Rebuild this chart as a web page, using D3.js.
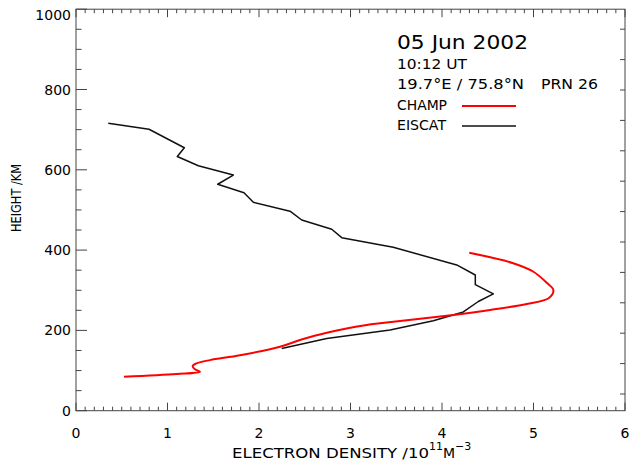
<!DOCTYPE html>
<html><head><meta charset="utf-8">
<script src="https://cdn.jsdelivr.net/npm/d3@7"></script>
<style>body{margin:0;background:#fff}svg{display:block}text{font-family:"DejaVu Sans",sans-serif;fill:#000;white-space:pre}</style>
</head><body>
<svg id="c" width="631" height="464"></svg>
<script>
const xTicks=[0,1,2,3,4,5,6];
const yTicks=[0,200,400,600,800,1000];
const champ=[[4.298,393.5],[4.770,368],[4.995,346.7],[5.148,318],[5.217,300.6],[5.169,280.7],[4.926,265.8],[4.525,250.8],[4.124,238.4],[3.322,217.7],[3.177,213.4],[2.740,194.3],[2.448,176],[2.230,159.4],[1.792,138],[1.464,126],[1.319,118],[1.275,111.3],[1.300,103],[1.355,97.1],[1.101,91.4],[0.525,84.7]];
const eiscat=[[0.353,716],[0.798,701],[1.184,655],[1.107,633],[1.337,610],[1.719,587],[1.549,564],[1.836,543],[1.938,519],[2.339,497],[2.467,475],[2.795,452],[2.904,431],[3.467,407],[4.161,363],[4.364,338],[4.364,314],[4.561,291],[4.397,272],[4.233,246],[3.905,224],[3.432,201],[2.740,180],[2.248,155]];
const legendLines=["05 Jun 2002","10:12 UT","19.7°E / 75.8°N","PRN 26"];
const series=[{name:"CHAMP",color:"#ff0000"},{name:"EISCAT",color:"#111"}];

const L=76,R=625,T=9.2,B=410.7;
const svg=d3.select("#c");
const x=d3.scaleLinear().domain([0,6]).range([L,R]);
const y=d3.scaleLinear().domain([0,1000]).range([B,T]);
const ax="#444";
const g=svg.append("g");
g.append("rect").attr("x",L).attr("y",T).attr("width",R-L).attr("height",B-T).attr("fill","none").attr("stroke",ax).attr("stroke-width",1);
const xMinor=d3.range(0,60.5,1).map(d=>d/10);
xMinor.forEach(v=>{const maj=Math.abs(v-Math.round(v))<1e-6;const len=maj?8:4;
  g.append("line").attr("x1",x(v)).attr("x2",x(v)).attr("y1",B).attr("y2",B-len).attr("stroke",ax);
  g.append("line").attr("x1",x(v)).attr("x2",x(v)).attr("y1",T).attr("y2",T+len).attr("stroke",ax);});
const yMinor=d3.range(0,1001,50);
yMinor.forEach(v=>{const maj=v%200===0;const len=maj?11:5.5;
  g.append("line").attr("x1",L).attr("x2",L+len).attr("y1",y(v)).attr("y2",y(v)).attr("stroke",ax);});
d3.range(0,13).forEach(k=>{const py=394-30.4*k;
  g.append("line").attr("x1",R).attr("x2",R-5).attr("y1",py).attr("y2",py).attr("stroke",ax);});
xTicks.forEach(v=>g.append("text").attr("x",x(v)).attr("y",438).attr("text-anchor","middle").attr("font-size",14).text(v));
yTicks.forEach(v=>g.append("text").attr("x",71).attr("y",y(v)+(v===1000?6:0)).attr("dy","0.36em").attr("text-anchor","end").attr("font-size",14).text(v));
// axis titles
const xt=g.append("text").attr("x",232).attr("y",458).attr("font-size",14);
xt.append("tspan").attr("textLength",197).attr("lengthAdjust","spacingAndGlyphs").text("ELECTRON DENSITY /10");
xt.append("tspan").attr("dy",-8).attr("font-size",11).text("11");
xt.append("tspan").attr("dy",8).text("M");
xt.append("tspan").attr("dy",-8).attr("font-size",11).text("−3");
g.append("text").attr("transform","translate(21,198) rotate(-90)").attr("text-anchor","middle").attr("font-size",14)
  .attr("textLength",68).attr("lengthAdjust","spacingAndGlyphs").text("HEIGHT /KM");
const lineB=d3.line().x(d=>x(d[0])).y(d=>y(d[1]));
const lineR=d3.line().x(d=>x(d[0])).y(d=>y(d[1])).curve(d3.curveCatmullRom.alpha(0.5));
g.append("path").attr("d",lineB(eiscat)).attr("fill","none").attr("stroke",series[1].color).attr("stroke-width",1.5).attr("stroke-linejoin","round");
g.append("path").attr("d",lineR(champ)).attr("fill","none").attr("stroke",series[0].color).attr("stroke-width",2).attr("stroke-linejoin","round");
// legend
const tl=(t,x0,yb,fs,w)=>g.append("text").attr("x",x0).attr("y",yb).attr("font-size",fs).attr("textLength",w).attr("lengthAdjust","spacingAndGlyphs").text(t);
tl(legendLines[0],397,49,19,131);
tl(legendLines[1],397,69,14,70);
tl(legendLines[2],397,89,14,127);
tl(legendLines[3],541,89,14,57);
const legW=[50,49];
series.forEach((s,i)=>{const by=110+20*i;
  tl(s.name,397,by,14,legW[i]);
  g.append("line").attr("x1",462).attr("x2",516).attr("y1",by-4).attr("y2",by-4).attr("stroke",s.color).attr("stroke-width",i===0?2:1.5);});
</script>
</body></html>
